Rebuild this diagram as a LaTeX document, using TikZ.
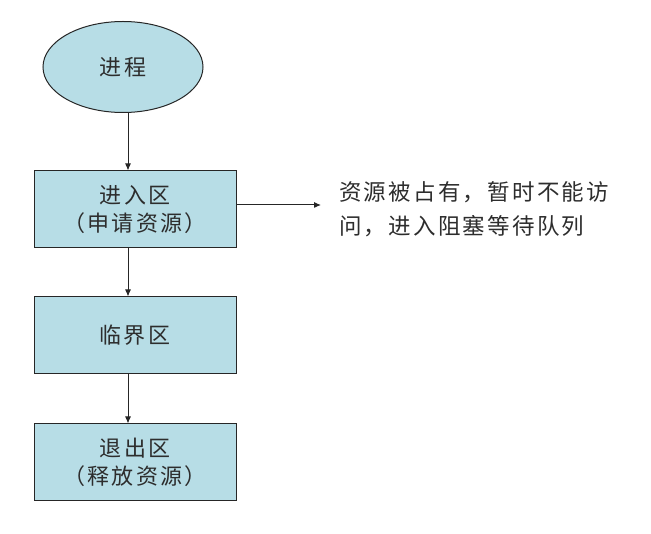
\documentclass[tikz,border=0pt]{standalone}
\usepackage{fontspec}
\setmainfont{Noto Sans CJK SC}
\newfontfamily\spaced[LetterSpace=10]{Noto Sans CJK SC}
\usetikzlibrary{shapes.geometric,arrows.meta}
\definecolor{fillblue}{RGB}{183,221,230}
\definecolor{txt}{RGB}{45,45,45}
\tikzset{
  x=1pt,y=-1pt,
  box/.style={draw=black!85,line width=1pt,fill=fillblue,minimum width=202pt,minimum height=77pt,inner sep=0pt,align=center,text=txt,font=\spaced\fontsize{22}{28}\selectfont},
  oval/.style={ellipse,draw=black!85,line width=1pt,fill=fillblue,minimum width=160pt,minimum height=91pt,inner sep=0pt,text=txt,font=\spaced\fontsize{22}{28}\selectfont},
  conn/.style={draw=black!85,line width=1pt,-{Latex[length=7pt,width=6pt]}}
}
\begin{document}
\begin{tikzpicture}
\useasboundingbox (0,0) rectangle (651,534);
\node[oval] (p) at (123,67) {进程};
\node[box] (b1) at (135,209.5) {进入区\\（申请资源）};
\node[box] (b2) at (135,335.5) {临界区};
\node[box] (b3) at (135,462.5) {退出区\\（释放资源）};
\node[anchor=north west,align=left,inner sep=0pt,text=txt,font=\spaced\fontsize{22.5}{34}\selectfont] (t) at (339,181) {资源被占有，暂时不能访\\问，进入阻塞等待队列};
\coordinate (e) at (321,205);
\draw[conn] (p.south -| 128,0) -- (b1.north -| 128,0);
\draw[conn] (b1.south -| 128,0) -- (b2.north -| 128,0);
\draw[conn] (b2.south -| 128,0) -- (b3.north -| 128,0);
\draw[conn] (b1.east |- e) -- (e);
\end{tikzpicture}
\end{document}
